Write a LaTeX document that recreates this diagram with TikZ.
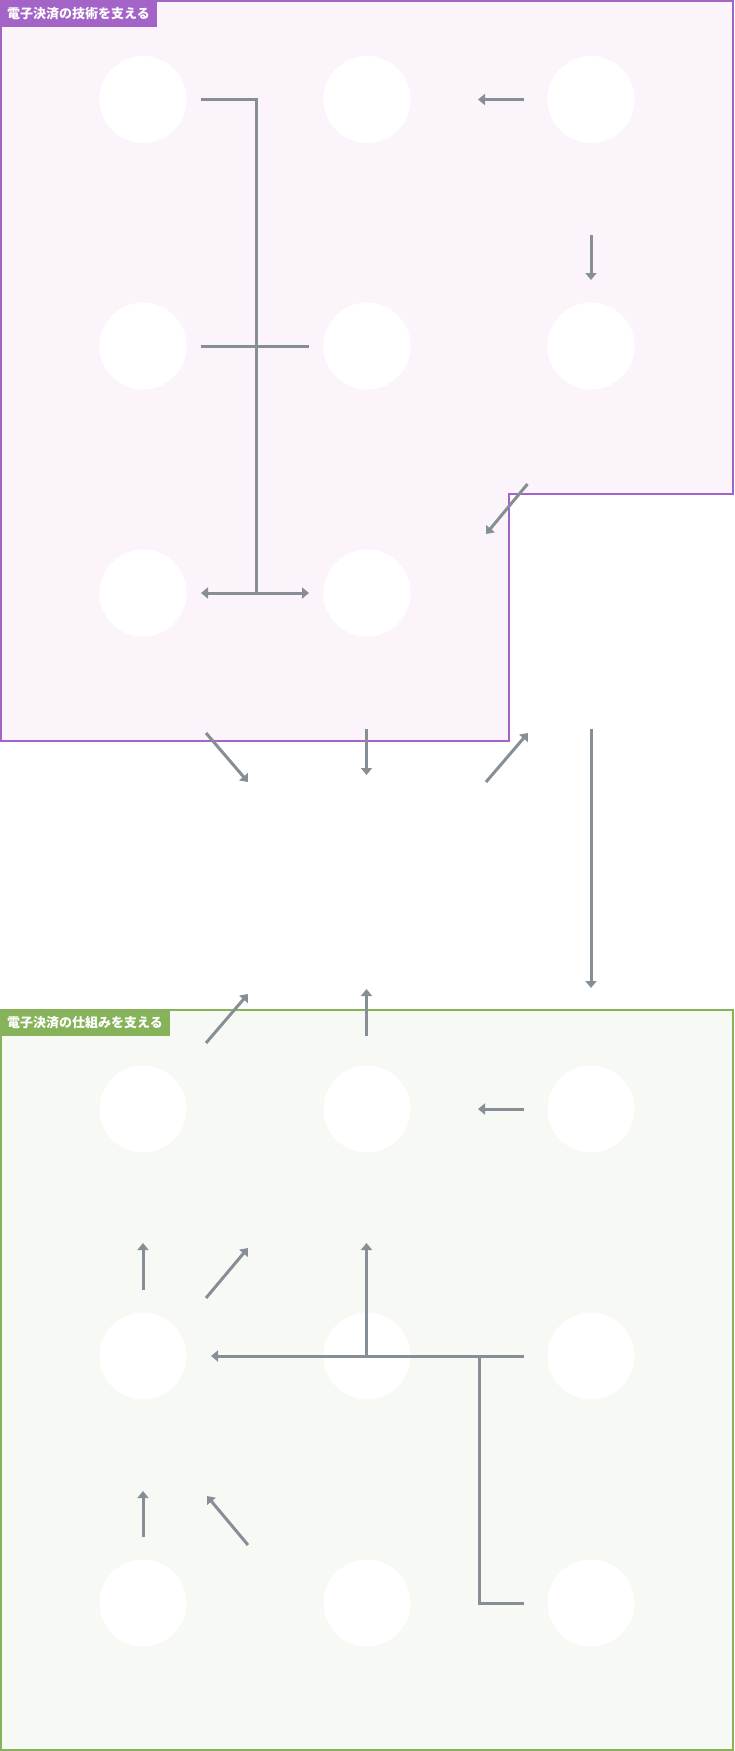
\documentclass[tikz,border=0pt]{standalone}
\usepackage{fontspec}
\newfontfamily\jpfont{Noto Sans CJK JP}
\usetikzlibrary{arrows.meta}
\definecolor{cgray}{HTML}{868E96}
\definecolor{pborder}{HTML}{A463C6}
\definecolor{pfill}{HTML}{FBF5FB}
\definecolor{gborder}{HTML}{86B35A}
\definecolor{gfill}{HTML}{F7F9F4}
\begin{document}
\begin{tikzpicture}[x=1pt,y=-1pt,
  conn/.style={draw=cgray,line width=3pt},
  arr/.style={conn,-{Triangle[width=11pt,length=7pt]}},
  dbl/.style={conn,{Triangle[width=11pt,length=7pt]}-{Triangle[width=11pt,length=7pt]}},
  circ/.style={circle,fill=white,minimum size=87pt,inner sep=0pt},
  lbl/.style={anchor=north west,text=white,inner xsep=7pt,inner ysep=0pt,minimum height=26.5pt,font=\jpfont\bfseries\fontsize{13}{15}\selectfont}]
\useasboundingbox (0,0) rectangle (734,1751);
\fill[white] (0,0) rectangle (734,1751);
% top group
\path[draw=pborder,fill=pfill,line width=2pt] (1,1) -- (733,1) -- (733,494) -- (509,494) -- (509,741) -- (1,741) -- cycle;
\node[lbl,fill=pborder] (tlabel) at (0,0) {電子決済の技術を支える};
% bottom group
\path[draw=gborder,fill=gfill,line width=2pt] (1,1010) rectangle (733,1750);
\node[lbl,fill=gborder] (blabel) at (0,1009) {電子決済の仕組みを支える};
% circles
\foreach \r/\y in {0/99.5,1/346,2/593}{
  \foreach \c/\x in {0/143,1/367,2/591}{
    \node[circ] (t\r\c) at (\x,\y) {};
  }
}
\foreach \r/\y in {0/1109,1/1356,2/1603}{
  \foreach \c/\x in {0/143,1/367,2/591}{
    \node[circ] (b\r\c) at (\x,\y) {};
  }
}
% top connectors
\coordinate (a1) at (201,99.5);
\coordinate (a2) at (256,593);
\coordinate (a3) at (201,593);
\coordinate (a4) at (309,593);
\draw[conn] (a1) -| (a2);
\draw[dbl] (a3) -- (a4);
\coordinate (b1) at (201,346);
\coordinate (b2) at (309,346);
\draw[conn] (b1) -- (b2);
\coordinate (c1) at (524,99.5);
\coordinate (c2) at (478,99.5);
\draw[arr] (c1) -- (c2);
\coordinate (d1) at (591,235);
\coordinate (d2) at (591,280);
\draw[arr] (d1) -- (d2);
\coordinate (e1) at (527.5,484);
\coordinate (e2) at (486,534);
\draw[arr] (e1) -- (e2);
% between
\coordinate (f1) at (206,733);
\coordinate (f2) at (248,782);
\draw[arr] (f1) -- (f2);
\coordinate (g1) at (366.5,729);
\coordinate (g2) at (366.5,775);
\draw[arr] (g1) -- (g2);
\coordinate (h1) at (486,782);
\coordinate (h2) at (528,733);
\draw[arr] (h1) -- (h2);
\coordinate (i1) at (591,729);
\coordinate (i2) at (591,988);
\draw[arr] (i1) -- (i2);
% bottom connectors
\coordinate (j1) at (206,1043);
\coordinate (j2) at (248,994);
\draw[arr] (j1) -- (j2);
\coordinate (k1) at (366.5,1036);
\coordinate (k2) at (366.5,989);
\draw[arr] (k1) -- (k2);
\coordinate (l1) at (524,1109);
\coordinate (l2) at (478,1109);
\draw[arr] (l1) -- (l2);
\coordinate (m1) at (143,1290);
\coordinate (m2) at (143,1243);
\draw[arr] (m1) -- (m2);
\coordinate (n1) at (206,1298);
\coordinate (n2) at (248,1248);
\draw[arr] (n1) -- (n2);
\coordinate (o1) at (524,1356);
\coordinate (o2) at (211,1356);
\draw[arr] (o1) -- (o2);
\coordinate (o3) at (366.5,1356);
\coordinate (o4) at (366.5,1243);
\draw[arr] (o3) -- (o4);
\coordinate (o5) at (524,1603);
\coordinate (o6) at (479,1356);
\draw[conn] (o5) -| (o6);
\coordinate (p1) at (143,1537);
\coordinate (p2) at (143,1491);
\draw[arr] (p1) -- (p2);
\coordinate (q1) at (248,1545);
\coordinate (q2) at (207,1496);
\draw[arr] (q1) -- (q2);
\end{tikzpicture}
\end{document}
